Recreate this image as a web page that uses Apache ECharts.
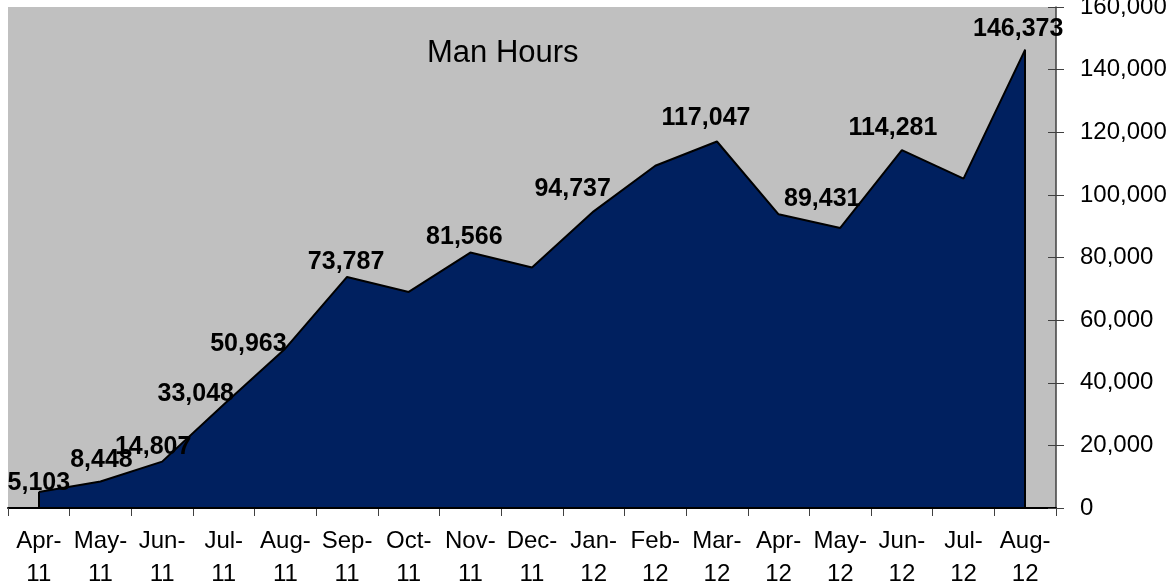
<!DOCTYPE html>
<html>
<head>
<meta charset="utf-8">
<script src="https://cdn.jsdelivr.net/npm/echarts@6/dist/echarts.min.js"></script>
<style>
  html, body { margin: 0; padding: 0; background: #fff; }
  #chart { width: 1176px; height: 584px; }
</style>
</head>
<body>
<div id="chart"></div>
<script>
const months = ['Apr-11', 'May-11', 'Jun-11', 'Jul-11', 'Aug-11', 'Sep-11', 'Oct-11', 'Nov-11', 'Dec-11',
  'Jan-12', 'Feb-12', 'Mar-12', 'Apr-12', 'May-12', 'Jun-12', 'Jul-12', 'Aug-12']
const manHours = [5103, 8448, 14807, 33048, 50963, 73787, 69000, 81566, 76800,
  94737, 109300, 117047, 93800, 89431, 114281, 105200, 146373]
// which points carry a value label in the original
const labelled = [true, true, true, true, true, true, false, true, false,
  true, false, true, false, true, true, false, true]
// small nudges so labels sit where the original put them
const labelNudge = [[0, 9], [1, -3], [-9, 3], [-28, 8], [-37, 14], [-1, 3], [0, 0], [-6, 3], [0, 0],
  [-21, -4], [0, 0], [-11, -5], [0, 0], [-18, -11], [-9, -4], [0, 0], [-7, -3]]

const font = 'Arial, "Liberation Sans", sans-serif'
const last = months.length - 1

var myChart = echarts.init(document.getElementById('chart'), null, { renderer: 'canvas' })

var option = {
  backgroundColor: '#ffffff',
  animation: false,
  title: {
    text: 'Man Hours',
    left: 422,
    top: 33,
    textStyle: { fontFamily: font, fontSize: 31, fontWeight: 'normal', color: '#000' }
  },
  grid: {
    left: 8, right: 120, top: 7, bottom: 76,
    outerBoundsMode: 'none',
    containLabel: false,
    show: true, backgroundColor: '#c0c0c0', borderWidth: 0
  },
  xAxis: {
    type: 'category',
    data: months,
    boundaryGap: true,
    axisLine: { lineStyle: { color: '#000', width: 2 } },
    axisTick: { show: true, length: 8, lineStyle: { color: '#404040', width: 1 } },
    axisLabel: {
      interval: 0,
      margin: 17,
      fontFamily: font, fontSize: 24, color: '#000', lineHeight: 33,
      formatter: v => v.replace('-', '-\n')
    }
  },
  yAxis: [
    {
      type: 'value', position: 'right', min: 0, max: 160000, interval: 20000,
      splitLine: { show: false },
      axisLine: { show: true, lineStyle: { color: '#404040', width: 1.5 } },
      axisTick: { show: true, length: 8, lineStyle: { color: '#404040' } },
      axisLabel: {
        margin: 24, fontFamily: font, fontSize: 24, color: '#000',
        formatter: v => v.toLocaleString('en-US')
      }
    },
    {
      // inner half of the crossing tick marks
      type: 'value', position: 'right', min: 0, max: 160000, interval: 20000,
      splitLine: { show: false },
      axisLine: { show: false },
      axisTick: { show: true, inside: true, length: 8, lineStyle: { color: '#404040' } },
      axisLabel: { show: false }
    }
  ],
  series: [{
    type: 'line',
    data: manHours.map((v, i) => ({
      value: v,
      label: { show: labelled[i], offset: labelNudge[i] }
    })),
    symbol: 'circle',
    symbolSize: 1,
    showSymbol: true,
    itemStyle: { color: 'rgba(0,0,0,0)' },
    lineStyle: { color: '#000', width: 2 },
    areaStyle: { color: '#00205f', opacity: 1 },
    label: {
      position: 'top', distance: 5,
      fontFamily: font, fontSize: 25, fontWeight: 'bold', color: '#000',
      formatter: p => p.value.toLocaleString('en-US')
    },
    markLine: {
      symbol: 'none',
      silent: true,
      label: { show: false },
      lineStyle: { color: '#000', width: 2, type: 'solid' },
      data: [
        [{ coord: [months[0], 0] }, { coord: [months[0], manHours[0]] }],
        [{ coord: [months[last], 0] }, { coord: [months[last], manHours[last]] }],
        [{ coord: [months[0], 0] }, { coord: [months[last], 0] }]
      ]
    }
  }]
}

myChart.setOption(option)
window.addEventListener('resize', myChart.resize)
</script>
</body>
</html>
